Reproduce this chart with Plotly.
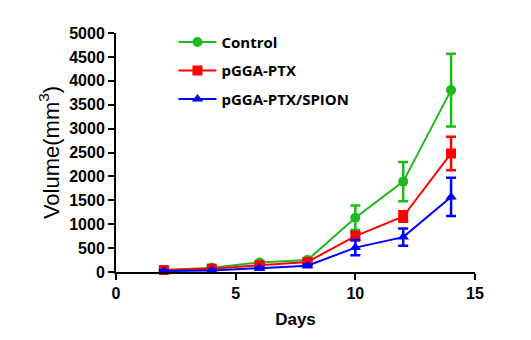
import plotly.graph_objects as go

days = [2, 4, 6, 8, 10, 12, 14]
control = [40, 90, 200, 250, 1135, 1890, 3805]
control_err = [20, 25, 30, 35, 255, 410, 760]
ptx = [40, 70, 140, 210, 750, 1160, 2480]
ptx_err = [20, 20, 25, 30, 90, 110, 350]
spion = [20, 30, 80, 130, 510, 730, 1570]
spion_err = [15, 15, 20, 25, 160, 180, 400]

series = [
    ("Control", control, control_err, "#1DB91D", "circle"),
    ("pGGA-PTX", ptx, ptx_err, "#FF0000", "square"),
    ("pGGA-PTX/SPION", spion, spion_err, "#0000FF", "triangle-up"),
]

fig = go.Figure()
for name, vals, err, color, sym in series:
    fig.add_trace(go.Scatter(
        x=days, y=vals, name=name, mode="lines+markers", legendgroup=name,
        line=dict(color=color, width=2),
        marker=dict(color=color, symbol=sym, size=10),
        error_y=dict(type="data", array=err, visible=True, color=color, thickness=2.5, width=5),
        cliponaxis=False,
    ))

fig.update_layout(
    width=531, height=340,
    margin=dict(l=116, r=56, t=33, b=68),
    plot_bgcolor="white", paper_bgcolor="white",
    showlegend=True,
    legend=dict(x=0.16, y=1.03, xanchor="left", yanchor="top",
                font=dict(family="Open Sans", size=15, color="black", weight="bold"),
                bgcolor="rgba(0,0,0,0)", itemwidth=38, tracegroupgap=6),
    xaxis=dict(range=[0, 15], tickvals=[0, 5, 10, 15], showgrid=False, zeroline=False,
               showline=True, linecolor="black", linewidth=2,
               ticks="outside", ticklen=6, tickwidth=2, tickcolor="black",
               tickfont=dict(family="Liberation Sans", size=16, color="black", weight="bold"),
               title=dict(text="Days", font=dict(family="Liberation Sans", size=17, color="black", weight="bold"), standoff=12)),
    yaxis=dict(range=[0, 5000], dtick=500, showgrid=False, zeroline=False,
               showline=True, linecolor="black", linewidth=2,
               ticks="outside", ticklen=6, tickwidth=2, tickcolor="black",
               tickfont=dict(family="Liberation Sans", size=16, color="black", weight="bold"),
               title=dict(text="Volume(mm<sup>3</sup>)", font=dict(family="Liberation Sans", size=22, color="black"), standoff=4)),
)

fig.write_html("out.html")
